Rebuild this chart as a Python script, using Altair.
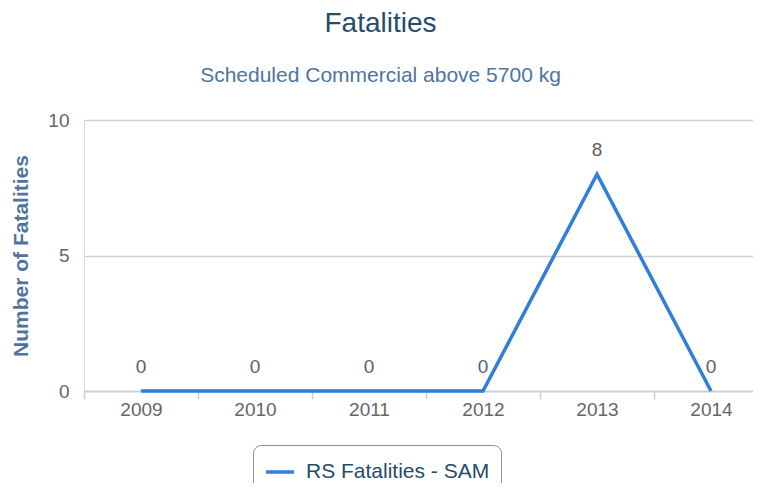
import altair as alt
import pandas as pd

# ---- data ----
years = [2009, 2010, 2011, 2012, 2013, 2014]
fatalities = [0, 0, 0, 0, 8, 0]
series_name = "RS Fatalities - SAM"
y_ticks = [0, 5, 10]
x_domain = [2008.5, 2014.5]
x_tick_values = [2008.5, 2009, 2009.5, 2010, 2010.5, 2011, 2011.5,
                 2012, 2012.5, 2013, 2013.5, 2014, 2014.5]

df = pd.DataFrame({
    "Year": years,
    "Fatalities": fatalities,
    "Series": [series_name] * len(years),
})

FONT = "Liberation Sans"

x_enc = alt.X(
    "Year:Q",
    scale=alt.Scale(domain=x_domain, range=[0, 684], nice=False, zero=False),
    axis=alt.Axis(
        values=x_tick_values,
        labelExpr="datum.value % 1 === 0 ? toString(datum.value) : ''",
        labelOverlap=False,
        labelFlush=False,
        labelFont=FONT,
        labelFontSize=19,
        labelColor="#666666",
        labelPadding=1,
        tickSize=8,
        tickWidth=1.5,
        tickColor={"condition": {"test": "datum.value % 1 !== 0", "value": "#C0D0E0"},
                   "value": "transparent"},
        domainColor="#C0D0E0",
        domainWidth=1.5,
        grid=False,
        title=None,
    ),
)

y_enc = alt.Y(
    "Fatalities:Q",
    scale=alt.Scale(domain=[0, 10], nice=False),
    axis=alt.Axis(
        values=y_ticks,
        title="Number of Fatalities",
        titleFont=FONT,
        titleFontSize=21,
        titleFontWeight="bold",
        titleColor="#4d759e",
        titlePadding=16,
        labelFont=FONT,
        labelFontSize=19,
        labelColor="#666666",
        labelPadding=15,
        domain=False,
        ticks=False,
        grid=True,
        gridColor="#D0D0D0",
        gridWidth=1.5,
    ),
)

line = alt.Chart(df).mark_line(strokeWidth=3.5).encode(
    x=x_enc,
    y=y_enc,
    color=alt.Color(
        "Series:N",
        scale=alt.Scale(range=["#2f7ed8"]),
        legend=alt.Legend(
            orient="none",
            legendX=169,
            legendY=325,
            title=None,
            symbolType="stroke",
            symbolSize=784,
            symbolStrokeWidth=3.5,
            labelFont=FONT,
            labelFontSize=21,
            labelColor="#274b6d",
            labelOffset=10,
            labelLimit=0,
            padding=11,
            strokeColor="#909090",
            cornerRadius=8,
            fillColor="white",
        ),
    ),
)

labels = alt.Chart(df).mark_text(
    dy=-18, baseline="alphabetic", fontSize=19, color="#606060", font=FONT
).encode(x=x_enc, y=y_enc, text="Fatalities:Q")

chart = (
    alt.layer(line, labels)
    .properties(
        width=669,
        height=271,
        autosize=alt.AutoSizeParams(type="none"),
        padding={"left": 76, "top": 112, "right": 0, "bottom": 92},
        title=alt.TitleParams(
            text="Fatalities",
            subtitle="Scheduled Commercial above 5700 kg",
            font=FONT,
            fontSize=28,
            fontWeight="normal",
            color="#274b6d",
            subtitleFont=FONT,
            subtitleFontSize=21,
            subtitleColor="#4d759e",
            anchor="middle",
            dx=-38,
            offset=25,
            subtitlePadding=27,
        ),
    )
    .configure_view(stroke=None)
    .configure(background="white")
)

chart.save("out.html", embed_options={"renderer": "svg", "actions": False})
